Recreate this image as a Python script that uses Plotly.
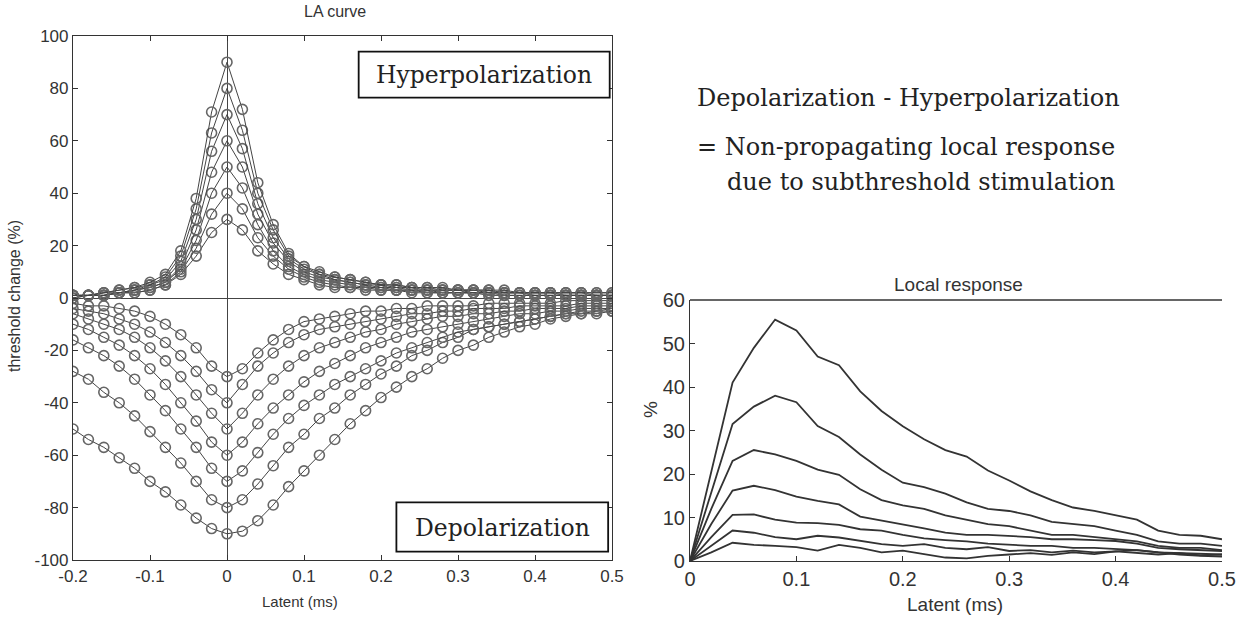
import plotly.graph_objects as go

# ---------------- data ----------------
latent_la = [-0.2, -0.18, -0.16, -0.14, -0.12, -0.1, -0.08, -0.06, -0.04, -0.02,
             0.0, 0.02, 0.04, 0.06, 0.08, 0.1, 0.12, 0.14, 0.16, 0.18, 0.2, 0.22,
             0.24, 0.26, 0.28, 0.3, 0.32, 0.34, 0.36, 0.38, 0.4, 0.42, 0.44, 0.46,
             0.48, 0.5]

hyper_90 = [1, 1, 2, 3, 4, 6, 9, 18, 38, 71, 90, 72, 44, 28, 17, 12, 10, 8, 7, 6, 5, 5, 4, 4, 4, 3, 3, 3, 3, 2, 2, 2, 2, 2, 2, 2]
hyper_80 = [1, 1, 2, 3, 4, 5, 8, 16, 34, 63, 80, 64, 40, 26, 16, 12, 9, 8, 7, 6, 5, 5, 4, 4, 3, 3, 3, 3, 2, 2, 2, 2, 2, 2, 2, 2]
hyper_70 = [1, 1, 2, 2, 3, 5, 7, 14, 30, 56, 70, 57, 36, 23, 15, 11, 9, 7, 6, 5, 5, 4, 4, 3, 3, 3, 3, 2, 2, 2, 2, 2, 2, 2, 1, 1]
hyper_60 = [1, 1, 1, 2, 3, 4, 6, 12, 26, 48, 60, 50, 32, 21, 14, 10, 8, 7, 6, 5, 4, 4, 3, 3, 3, 3, 2, 2, 2, 2, 2, 2, 1, 1, 1, 1]
hyper_50 = [1, 1, 1, 2, 3, 4, 6, 11, 22, 40, 50, 42, 28, 18, 12, 9, 7, 6, 5, 4, 4, 3, 3, 3, 2, 2, 2, 2, 2, 2, 1, 1, 1, 1, 1, 1]
hyper_40 = [0, 1, 1, 2, 2, 3, 5, 10, 19, 32, 40, 34, 23, 16, 11, 8, 6, 5, 4, 4, 3, 3, 3, 2, 2, 2, 2, 2, 1, 1, 1, 1, 1, 1, 1, 1]
hyper_30 = [0, 1, 1, 2, 2, 3, 5, 9, 16, 25, 30, 26, 18, 13, 9, 7, 5, 4, 4, 3, 3, 3, 2, 2, 2, 2, 2, 1, 1, 1, 1, 1, 1, 1, 1, 1]

depol_90 = [-50, -54, -57, -61, -65, -70, -74, -79, -84, -88, -90, -89, -85, -79, -72, -66, -60, -54, -48, -43, -38, -34, -30, -27, -23, -20, -18, -15, -13, -11, -10, -8, -7, -6, -6, -5]
depol_80 = [-28, -31, -36, -40, -45, -51, -57, -63, -70, -77, -80, -77, -71, -64, -57, -52, -46, -42, -37, -33, -29, -26, -22, -20, -17, -15, -12, -11, -10, -9, -8, -7, -6, -5, -5, -4]
depol_70 = [-16, -19, -22, -26, -31, -37, -43, -50, -57, -65, -70, -66, -59, -52, -46, -41, -37, -33, -30, -27, -24, -21, -19, -17, -15, -13, -12, -11, -10, -9, -8, -7, -6, -6, -5, -5]
depol_60 = [-10, -12, -15, -18, -22, -27, -33, -40, -47, -55, -60, -55, -48, -42, -37, -32, -28, -25, -22, -19, -17, -15, -13, -12, -11, -10, -9, -8, -7, -6, -6, -5, -5, -4, -4, -4]
depol_50 = [-6, -8, -10, -12, -15, -19, -24, -30, -37, -44, -50, -44, -37, -31, -26, -22, -19, -17, -15, -13, -12, -10, -9, -8, -7, -7, -6, -6, -5, -5, -4, -4, -4, -3, -3, -3]
depol_40 = [-4, -5, -6, -8, -10, -13, -17, -22, -28, -35, -40, -33, -26, -21, -17, -14, -12, -11, -10, -9, -8, -7, -6, -6, -5, -5, -4, -4, -4, -3, -3, -3, -3, -2, -2, -2]
depol_30 = [-2, -3, -3, -4, -5, -7, -10, -14, -19, -26, -30, -27, -21, -16, -12, -9, -8, -7, -6, -5, -5, -4, -4, -3, -3, -3, -3, -2, -2, -2, -2, -2, -1, -1, -1, -1]

latent_local = [0.0, 0.02, 0.04, 0.06, 0.08, 0.1, 0.12, 0.14, 0.16, 0.18, 0.2, 0.22, 0.24,
                0.26, 0.28, 0.3, 0.32, 0.34, 0.36, 0.38, 0.4, 0.42, 0.44, 0.46, 0.48, 0.5]
local_1 = [0, 20.5, 41, 49, 55.5, 53, 47, 45, 39, 34.5, 31, 28, 25.5, 24, 20.8, 18.5, 16, 14, 12.3, 11.5, 10.5, 9.5, 7, 6, 5.8, 5]
local_2 = [0, 16, 31.5, 35.5, 38, 36.5, 31, 28.5, 24.5, 21, 18, 17, 15.5, 13.5, 12, 11.5, 10.5, 9, 8.5, 8, 7, 6, 4.5, 4, 4, 3.5]
local_3 = [0, 12, 23, 25.5, 24.5, 23, 21, 19.8, 16.5, 14, 12.8, 12, 10.5, 9.5, 8.5, 8, 7, 6, 6, 5.5, 5, 4.5, 3.5, 3, 3, 2.5]
local_4 = [0, 8.5, 16.2, 17.3, 16.3, 14.8, 13.8, 13, 10.2, 9.3, 8.5, 7.5, 6.5, 6, 6, 5.8, 5.5, 5, 5, 4.8, 4.6, 4, 3, 2.7, 2.5, 2.3]
local_5 = [0, 5.5, 10.6, 10.7, 9.5, 8.8, 8.7, 8.3, 7.3, 7, 6, 5.2, 4.8, 4.5, 4, 3.8, 3.5, 3.5, 3, 3, 2.8, 2.5, 2, 1.8, 1.6, 1.5]
local_6 = [0, 3.5, 7, 6.5, 5.5, 5, 5.8, 5.4, 4.6, 3.9, 3.5, 3.9, 3, 2.7, 3.2, 2.3, 2.5, 2, 2.4, 2, 2.2, 1.8, 1.5, 1.8, 1.3, 1.5]
local_7 = [0, 2, 4.2, 3.7, 3.5, 3.2, 2.4, 3.7, 3, 2, 2.4, 1.6, 0.8, 0.6, 1.2, 1.5, 1.8, 1.4, 2, 1.6, 2.2, 2.5, 2, 1.5, 1.2, 1]

la_xtickvals = [-0.2, -0.1, 0, 0.1, 0.2, 0.3, 0.4, 0.5]
la_xticktext = ["-0.2", "-0.1", "0", "0.1", "0.2", "0.3", "0.4", "0.5"]
la_ytickvals = [100, 80, 60, 40, 20, 0, -20, -40, -60, -80, -100]
la_yticktext = ["100", "80", "60", "40", "20", "0", "-20", "-40", "-60", "-80", "-100"]
lr_xtickvals = [0, 0.1, 0.2, 0.3, 0.4, 0.5]
lr_xticktext = ["0", "0.1", "0.2", "0.3", "0.4", "0.5"]
lr_ytickvals = [0, 10, 20, 30, 40, 50, 60]
lr_yticktext = ["0", "10", "20", "30", "40", "50", "60"]

# ---------------- figure ----------------
W, H = 1247, 617


def px(x):
    return x / W


def py(y):
    return 1 - y / H


fig = go.Figure()

marker_col = "#666666"
for series in [depol_90, depol_80, depol_70, depol_60, depol_50, depol_40, depol_30,
               hyper_30, hyper_40, hyper_50, hyper_60, hyper_70, hyper_80, hyper_90]:
    fig.add_trace(go.Scatter(
        x=latent_la, y=series, mode="lines+markers",
        line=dict(color="#444444", width=1),
        marker=dict(symbol="circle-open", size=10, color=marker_col,
                    line=dict(width=1.6, color=marker_col)),
        xaxis="x", yaxis="y", showlegend=False, hoverinfo="skip"))

for series in [local_7, local_6, local_5, local_4, local_3, local_2, local_1]:
    fig.add_trace(go.Scatter(
        x=latent_local, y=series, mode="lines",
        line=dict(color="#333333", width=1.8),
        xaxis="x2", yaxis="y2", showlegend=False, hoverinfo="skip"))

sans = "Liberation Sans, Arial"
serif = "DejaVu Serif"


def axis_style(size):
    return dict(showline=True, linecolor="#333333", linewidth=1.2, ticks="inside",
                ticklen=5, tickcolor="#333333", showgrid=False, automargin=False,
                tickfont=dict(family=sans, size=size, color="#333333"), tickmode="array")


fig.update_layout(
    template="none",
    width=W, height=H, margin=dict(l=0, r=0, t=0, b=0, autoexpand=False),
    paper_bgcolor="white", plot_bgcolor="white",
    xaxis=dict(domain=[px(73), px(612)], range=[-0.2, 0.5], anchor="y",
               tickvals=la_xtickvals, ticktext=la_xticktext, mirror="ticks",
               zeroline=True, zerolinecolor="#444444", zerolinewidth=1, **axis_style(17)),
    yaxis=dict(domain=[py(560), py(36)], range=[-100, 100], anchor="x",
               tickvals=la_ytickvals, ticktext=la_yticktext, mirror="ticks",
               zeroline=True, zerolinecolor="#444444", zerolinewidth=1, **axis_style(17)),
    xaxis2=dict(domain=[px(690), px(1222)], range=[0, 0.5], anchor="y2",
                tickvals=lr_xtickvals, ticktext=lr_xticktext, zeroline=False, **axis_style(20)),
    yaxis2=dict(domain=[py(561), py(300)], range=[0, 60], anchor="x2",
                tickvals=lr_ytickvals, ticktext=lr_yticktext, zeroline=False, **axis_style(20)),
)

# top frame line of the right panel
fig.add_shape(type="line", xref="x2 domain", yref="y2 domain", x0=0, x1=1, y0=1, y1=1,
              line=dict(color="#333333", width=1.5))

# boxes with labels (left panel)
fig.add_shape(type="rect", xref="x", yref="y", x0=0.171, x1=0.497, y0=76.5, y1=94,
              line=dict(color="#111111", width=1.8), fillcolor="white", layer="above")
fig.add_annotation(x=0.334, y=85.3, xref="x", yref="y", text="Hyperpolarization",
                   showarrow=False, font=dict(family=serif, size=23.5, color="#222222"))
fig.add_shape(type="rect", xref="x", yref="y", x0=0.22, x1=0.495, y0=-96.8, y1=-78,
              line=dict(color="#111111", width=1.8), fillcolor="white", layer="above")
fig.add_annotation(x=0.3575, y=-87.8, xref="x", yref="y", text="Depolarization",
                   showarrow=False, font=dict(family=serif, size=23.5, color="#222222"))

# titles and axis labels
labels = [
    ("LA curve", 335, 12, 16, 0),
    ("Latent (ms)", 300, 601, 15, 0),
    ("threshold change (%)", 14, 296, 16, -90),
    ("Local response", 958, 284, 19, 0),
    ("Latent (ms)", 955, 604, 19, 0),
    ("%", 650, 410, 19, -90),
]
for txt, x, y, s, ang in labels:
    fig.add_annotation(x=px(x), y=py(y), xref="paper", yref="paper", text=txt,
                       showarrow=False, textangle=ang, xanchor="center", yanchor="middle",
                       font=dict(family=sans, size=s, color="#333333"))

# explanatory text (right, top)
notes = [
    ("Depolarization - Hyperpolarization", 695, 98),
    ("= Non-propagating local response", 695, 147),
    ("due to subthreshold stimulation", 725, 182),
]
for txt, x, y in notes:
    fig.add_annotation(x=px(x), y=py(y), xref="paper", yref="paper", text=txt,
                       showarrow=False, xanchor="left", yanchor="middle",
                       font=dict(family=serif, size=24, color="#222222"))

fig.write_html("out.html")
